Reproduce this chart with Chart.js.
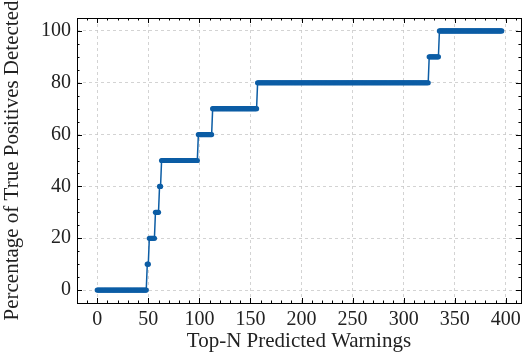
<!DOCTYPE html>
<html>
<head>
<meta charset="utf-8">
<script src="https://cdn.jsdelivr.net/npm/chart.js@4/dist/chart.umd.min.js"></script>
<style>
  html, body { margin: 0; padding: 0; background: #fff; }
  #wrap { width: 526px; height: 354px; }
</style>
</head>
<body>
<div id="wrap"><canvas id="stepChart"></canvas></div>
<script>
// step curve: first N of each run and its percentage
const runStarts = [0, 49, 51, 57, 61, 63, 99, 113, 157, 325, 335];
const runValues = [0, 10, 20, 30, 40, 50, 60, 70, 80, 90, 100];
const lastN = 396;
const xTicks = [0, 50, 100, 150, 200, 250, 300, 350, 400];
const yTicks = [0, 20, 40, 60, 80, 100];

// one point per N, holding the value of the run it falls in
const points = [];
for (let r = 0; r < runStarts.length; r++) {
  const end = r + 1 < runStarts.length ? runStarts[r + 1] - 1 : lastN;
  for (let n = runStarts[r]; n <= end; n++) points.push({x: n, y: runValues[r]});
}

const FONT = "'Liberation Serif', 'DejaVu Serif', serif";

// matplotlib-ish frame: box plus inward major/minor ticks on all sides
const frame = {
  id: 'frame',
  afterDraw(chart) {
    const {ctx, chartArea: a, scales: {x, y}} = chart;
    ctx.save();
    ctx.strokeStyle = '#000';
    ctx.lineWidth = 1;
    ctx.beginPath();
    const tick = (px, len, vertical) => {
      if (vertical) {
        ctx.moveTo(px, a.bottom); ctx.lineTo(px, a.bottom - len);
        ctx.moveTo(px, a.top); ctx.lineTo(px, a.top + len);
      } else {
        ctx.moveTo(a.left, px); ctx.lineTo(a.left + len, px);
        ctx.moveTo(a.right, px); ctx.lineTo(a.right - len, px);
      }
    };
    for (let v = -10; v <= 410; v += 10) {
      const px = Math.round(x.getPixelForValue(v)) + 0.5;
      if (px < a.left || px > a.right) continue;
      tick(px, v % 50 === 0 ? 5 : 2.5, true);
    }
    for (let v = -5; v <= 105; v += 5) {
      const py = Math.round(y.getPixelForValue(v)) + 0.5;
      if (py < a.top || py > a.bottom) continue;
      tick(py, v % 20 === 0 ? 5 : 2.5, false);
    }
    ctx.stroke();
    ctx.strokeRect(Math.round(a.left) + 0.5, Math.round(a.top) + 0.5,
                   Math.round(a.right - a.left), Math.round(a.bottom - a.top));
    ctx.restore();
  }
};

const grid = {
  color: '#c8c8c8',
  lineWidth: 0.8,
  tickLength: 0,
  drawTicks: false
};

new Chart(document.getElementById('stepChart'), {
  type: 'line',
  data: {
    datasets: [{
      data: points,
      borderColor: '#0C5DA5',
      backgroundColor: '#0C5DA5',
      borderWidth: 1.5,
      pointRadius: 2.6,
      pointBorderWidth: 0,
      tension: 0,
      fill: false
    }]
  },
  options: {
    responsive: true,
    maintainAspectRatio: false,
    animation: false,
    layout: {padding: {top: 8, right: 5, left: 0, bottom: 0}},
    plugins: {legend: {display: false}, tooltip: {enabled: false}},
    scales: {
      x: {
        type: 'linear',
        min: -19.8,
        max: 414.8,
        afterBuildTicks: s => { s.ticks = xTicks.map(v => ({value: v})); },
        afterFit: s => { s.height = 51; },
        border: {display: false, dash: [3, 3]},
        grid: grid,
        ticks: {font: {family: FONT, size: 20}, color: '#222', padding: 5, maxRotation: 0},
        title: {display: true, text: 'Top-N Predicted Warnings', font: {family: FONT, size: 21},
                color: '#222', padding: {top: 0, bottom: 0}}
      },
      y: {
        min: -5,
        max: 105,
        afterBuildTicks: s => { s.ticks = yTicks.map(v => ({value: v})); },
        afterFit: s => { s.width = 77; },
        border: {display: false, dash: [3, 3]},
        grid: grid,
        ticks: {font: {family: FONT, size: 20}, color: '#222', padding: 6},
        title: {display: true, text: 'Percentage of True Positives Detected',
                font: {family: FONT, size: 21}, color: '#222', padding: {top: 0, bottom: 2}}
      }
    }
  },
  plugins: [frame]
});
</script>
</body>
</html>
